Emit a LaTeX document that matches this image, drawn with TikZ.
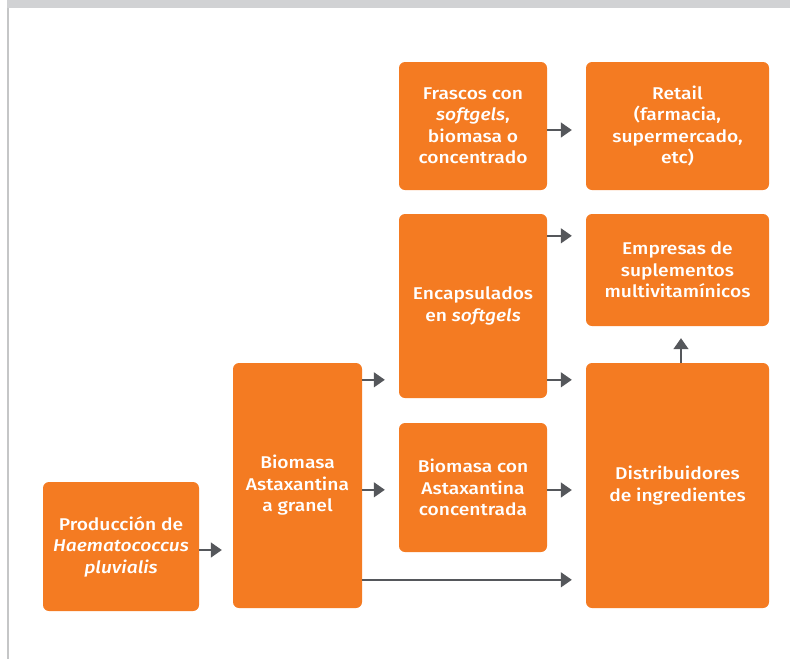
\documentclass[tikz,border=0pt]{standalone}
\usepackage{fontspec}
\setmainfont{Fira Sans}[UprightFont=* Medium, ItalicFont=* Medium Italic, FakeStretch=1.13]
\usetikzlibrary{arrows.meta,calc}
\definecolor{boxorange}{HTML}{F47B22}
\definecolor{arrowgray}{HTML}{55575B}
\definecolor{framegray}{HTML}{D1D2D4}
\tikzset{
  box/.style={fill=boxorange, rounded corners=6pt, text=white, align=center,
    inner sep=0pt, font=\fontsize{17}{21.5}\selectfont},
  arr/.style={draw=arrowgray, line width=1.5pt, -{Triangle[length=11pt,width=15pt]}, shorten >=14pt}
}
\begin{document}
\begin{tikzpicture}[x=1pt,y=-1pt]
\useasboundingbox (0,0) rectangle (790,659);
\fill[framegray] (7,0) rectangle (790,8);
\fill[framegray!85!gray] (7,8) rectangle (8.5,659);

\node[box, minimum width=156pt, minimum height=129pt] (prod) at (121,546.5)
  {Producción de\\\textit{Haematococcus}\\\textit{pluvialis}};
\node[box, minimum width=129pt, minimum height=245pt] (gran) at (297.5,485.5)
  {Biomasa\\Astaxantina\\a granel};
\node[box, minimum width=148pt, minimum height=128pt] (fras) at (473,126)
  {Frascos con\\\textit{softgels},\\biomasa o\\concentrado};
\node[box, minimum width=183pt, minimum height=128pt] (ret) at (677.5,126)
  {Retail\\(farmacia,\\supermercado,\\etc)};
\node[box, minimum width=148pt, minimum height=184pt] (enc) at (473,306)
  {Encapsulados\\en \textit{softgels}};
\node[box, minimum width=148pt, minimum height=129pt] (bcon) at (473,487.5)
  {Biomasa con\\Astaxantina\\concentrada};
\node[box, minimum width=183pt, minimum height=112pt] (emp) at (677.5,270)
  {Empresas de\\suplementos\\multivitamínicos};
\node[box, minimum width=183pt, minimum height=245pt] (dist) at (677.5,485.5)
  {Distribuidores\\de ingredientes};

\draw[arr, shorten >=11pt] ($(prod.east)+(0,3.5)$) -- ($(gran.west)+(0,64.5)$);
\draw[arr] ($(gran.north east)+(0,17)$) coordinate (g1) -- (g1 -| enc.west);
\draw[arr] ($(gran.north east)+(0,127)$) coordinate (g2) -- (g2 -| bcon.west);
\draw[arr] ($(gran.north east)+(0,217)$) coordinate (g3) -- (g3 -| dist.west);
\draw[arr] ($(fras.east)+(0,4)$) coordinate (f1) -- (f1 -| ret.west);
\draw[arr] ($(enc.north east)+(0,22)$) coordinate (e1) -- (e1 -| emp.west);
\draw[arr] ($(enc.north east)+(0,166)$) coordinate (e2) -- (e2 -| dist.west);
\draw[arr] ($(bcon.east)+(0,2.5)$) coordinate (b1) -- (b1 -| dist.west);
\draw[arr, shorten >=12pt] ($(dist.north)+(3.5,0)$) coordinate (d1) -- (d1 |- emp.south);
\end{tikzpicture}
\end{document}
